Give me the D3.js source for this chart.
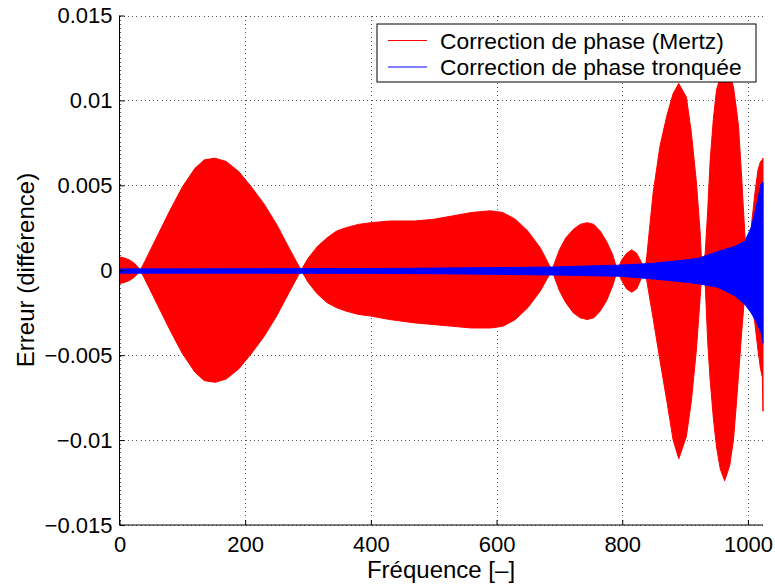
<!DOCTYPE html>
<html>
<head>
<meta charset="utf-8">
<script src="https://cdn.jsdelivr.net/npm/d3@7/dist/d3.min.js"></script>
<style>
  html, body { margin: 0; padding: 0; background: #fff; }
  svg { display: block; }
  text { font-family: "Liberation Sans", Arial, Helvetica, sans-serif; fill: #000; }
</style>
</head>
<body>
<svg id="chart" width="775" height="584"></svg>
<script>
// ---- Data (envelopes) ----
const redX = [0, 8, 16, 24, 29, 33,
  40, 60, 80, 100, 120, 135, 152, 170, 190, 210, 230, 250, 270, 289,
  300, 315, 330, 345, 360, 380, 400, 430, 470, 500, 530, 560, 590, 610, 630, 650, 670, 688,
  700, 710, 722, 733, 744, 755, 765, 775, 785, 792,
  799, 807, 815, 823, 830, 836,
  839, 849, 860, 871, 881, 890, 902, 910, 918, 924, 927,
  932, 936, 940, 945, 950, 956, 963, 971, 977, 982, 985, 990, 995, 999,
  1006, 1011, 1016, 1020, 1023, 1024];
const redTop = [0.00078, 0.00072, 0.0006, 0.0004, 0.0002, 0,
  0.0005, 0.0020, 0.0035, 0.0049, 0.0060, 0.0065, 0.0066, 0.0064, 0.0058, 0.0049, 0.0039, 0.0027, 0.0013, 0,
  0.0007, 0.0014, 0.0019, 0.0023, 0.0025, 0.0027, 0.0028, 0.0029, 0.0029, 0.0030, 0.0032, 0.0034, 0.0035, 0.0034, 0.0030, 0.0023, 0.0013, 0,
  0.0012, 0.0019, 0.0024, 0.0027, 0.0028, 0.0027, 0.0023, 0.0017, 0.0009, 0,
  0.0006, 0.0010, 0.0012, 0.0010, 0.0005, 0,
  0.0008, 0.0045, 0.0073, 0.0091, 0.0104, 0.0110, 0.0102, 0.0081, 0.0052, 0.0022, 0,
  0.0010, 0.0035, 0.0065, 0.0089, 0.0106, 0.0114, 0.0118, 0.0115, 0.0108, 0.0094, 0.0085, 0.0055, 0.0022, 0,
  0.0028, 0.0045, 0.0059, 0.0064, 0.0065, 0.0066];
const redBottom = [-0.00078, -0.00072, -0.0006, -0.0004, -0.0002, 0,
  -0.0005, -0.0020, -0.0035, -0.0049, -0.0060, -0.0065, -0.0066, -0.0064, -0.0058, -0.0049, -0.0039, -0.0027, -0.0013, 0,
  -0.0007, -0.0014, -0.0019, -0.0022, -0.0024, -0.0026, -0.0027, -0.0029, -0.0031, -0.0032, -0.0033, -0.0034, -0.0034, -0.0033, -0.0029, -0.0022, -0.0012, 0,
  -0.0012, -0.0019, -0.0025, -0.0028, -0.0029, -0.0028, -0.0024, -0.0018, -0.0009, 0,
  -0.0006, -0.0011, -0.0013, -0.0011, -0.0005, 0,
  -0.0006, -0.0028, -0.0053, -0.0077, -0.0100, -0.0111, -0.0098, -0.0077, -0.0047, -0.0016, 0,
  -0.0008, -0.0042, -0.0065, -0.0087, -0.0104, -0.0117, -0.0124, -0.0115, -0.0100, -0.0077, -0.0062, -0.0037, -0.0014, 0,
  -0.0019, -0.0031, -0.0047, -0.0058, -0.0063, -0.0083];

const blueX = [0, 200, 400, 550, 690, 794, 846, 900, 921, 952, 979, 995, 1005, 1013, 1021, 1024];
const blueTop = [0.00008, 0.00009, 0.0001, 0.00014, 0.00019, 0.0003, 0.0004, 0.0006, 0.0007, 0.0011, 0.0014, 0.0017, 0.0025, 0.0037, 0.0051, 0.0052];
const blueBottom = [-0.00017, -0.00017, -0.00018, -0.00022, -0.00028, -0.00035, -0.0005, -0.0007, -0.0008, -0.0010, -0.0015, -0.0020, -0.0025, -0.0030, -0.0037, -0.0043];

const xTicks = [0, 200, 400, 600, 800, 1000];
const yTicks = [-0.015, -0.01, -0.005, 0, 0.005, 0.01, 0.015];
const yTickLabels = ["\u22120.015", "\u22120.01", "\u22120.005", "0", "0.005", "0.01", "0.015"];
const seriesNames = ["Correction de phase (Mertz)", "Correction de phase tronqu\u00e9e"];
const seriesColors = ["#ff0000", "#0000ff"];
const xLabel = "Fr\u00e9quence [\u2013]";
const yLabel = "Erreur (diff\u00e9rence)";

// ---- Layout ----
const svg = d3.select("#chart");
const mLeft = 119.5, mRight = 763, mTop = 15.5, mBottom = 525;
const x = d3.scaleLinear().domain([0, 1024]).range([mLeft, mRight]);
const y = d3.scaleLinear().domain([-0.015, 0.015]).range([mBottom, mTop]);
const FS = 22, FS_LABEL = 24, FS_LEG = 22.8;

// grid
const grid = svg.append("g").attr("stroke", "#555").attr("stroke-width", 1)
  .attr("stroke-dasharray", "1,3.2").attr("shape-rendering", "crispEdges");
xTicks.forEach(t => {
  grid.append("line").attr("x1", Math.round(x(t)) + 0.5).attr("x2", Math.round(x(t)) + 0.5)
    .attr("y1", mTop).attr("y2", mBottom);
});
yTicks.forEach(t => {
  grid.append("line").attr("y1", Math.round(y(t)) + 0.5).attr("y2", Math.round(y(t)) + 0.5)
    .attr("x1", mLeft).attr("x2", mRight);
});

// clip
svg.append("clipPath").attr("id", "clip").append("rect")
  .attr("x", mLeft).attr("y", mTop).attr("width", mRight - mLeft + 2).attr("height", mBottom - mTop);

const plot = svg.append("g").attr("clip-path", "url(#clip)");

const redData = redX.map((v, i) => ({ x: v, t: redTop[i], b: redBottom[i] }));
const blueData = blueX.map((v, i) => ({ x: v, t: blueTop[i], b: blueBottom[i] }));
const area = d3.area().x(d => x(d.x)).y0(d => y(d.b)).y1(d => y(d.t)).curve(d3.curveLinear);

plot.append("path").datum(redData).attr("d", area)
  .attr("fill", seriesColors[0]).attr("stroke", seriesColors[0]).attr("stroke-width", 1);
plot.append("path").datum(blueData).attr("d", area)
  .attr("fill", seriesColors[1]).attr("stroke", seriesColors[1]).attr("stroke-width", 1);

// axes
const yAxis = d3.axisLeft(y).tickValues(yTicks).tickFormat((d, i) => yTickLabels[i])
  .tickSize(-5).tickPadding(7);
const gy = svg.append("g").attr("transform", `translate(${mLeft},0)`).call(yAxis);
const xAxis = d3.axisBottom(x).tickValues(xTicks).tickFormat(d3.format("d"))
  .tickSize(-5).tickPadding(11);
const gx = svg.append("g").attr("transform", `translate(0,${mBottom})`).call(xAxis);
[gx, gy].forEach(g => {
  g.select(".domain").attr("stroke", "#000").attr("stroke-width", 1);
  g.selectAll(".tick line").attr("stroke", "#000");
  g.selectAll("text").attr("font-size", FS).attr("font-family", '"Liberation Sans", Arial, sans-serif').attr("fill", "#000");
});
gy.select(".domain").attr("d", `M0,${mTop}V${mBottom}`);
gx.select(".domain").attr("d", `M${mLeft},0H${mRight}`);

// axis labels
svg.append("text").attr("x", 441).attr("y", 578).attr("text-anchor", "middle")
  .attr("font-size", FS_LABEL).text(xLabel);
svg.append("text").attr("transform", `translate(34,270) rotate(-90)`).attr("text-anchor", "middle")
  .attr("font-size", FS_LABEL).text(yLabel);

// legend
const lg = svg.append("g");
lg.append("rect").attr("x", 377).attr("y", 24).attr("width", 379).attr("height", 58)
  .attr("fill", "#fff").attr("stroke", "#000").attr("stroke-width", 1);
seriesNames.forEach((name, i) => {
  const cy = 40.5 + i * 26.5;
  lg.append("line").attr("x1", 388).attr("x2", 427).attr("y1", cy).attr("y2", cy)
    .attr("stroke", seriesColors[i]).attr("stroke-width", 1);
  lg.append("text").attr("x", 440).attr("y", cy + 8).attr("font-size", FS_LEG).text(name);
});
</script>
</body>
</html>
